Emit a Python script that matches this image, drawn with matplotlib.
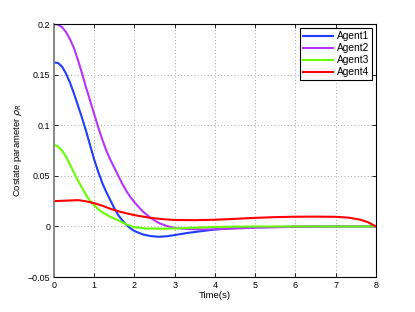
import numpy as np
import matplotlib
matplotlib.use('Agg')
import matplotlib.pyplot as plt

plt.rcParams['font.family'] = ['Liberation Sans', 'DejaVu Sans']

# values
t1 = [0, 0.1, 0.2, 0.3, 0.4, 0.5, 0.6, 0.7, 0.8, 0.9, 1.0, 1.1, 1.2, 1.3, 1.4, 1.5, 1.6, 1.7, 1.8, 1.9, 2.0,
      2.2, 2.4, 2.6, 2.8, 3.0, 3.3, 3.6, 4.0, 4.5, 5.0, 6.0, 7.0, 8.0]
agent1 = [0.162, 0.1615, 0.158, 0.151, 0.142, 0.131, 0.119, 0.107, 0.094, 0.080, 0.066, 0.054, 0.043, 0.034,
          0.026, 0.018, 0.011, 0.006, 0.0015, -0.0018, -0.0045, -0.0078, -0.0095, -0.0102, -0.0097, -0.0085,
          -0.0065, -0.005, -0.003, -0.0015, -0.0008, -0.0002, 0.0, 0.0]

t2 = [0, 0.1, 0.2, 0.3, 0.4, 0.5, 0.6, 0.7, 0.8, 0.9, 1.0, 1.1, 1.2, 1.3, 1.4, 1.5, 1.6, 1.7, 1.8, 1.9, 2.0,
      2.2, 2.4, 2.6, 2.8, 3.0, 3.3, 3.7, 4.2, 5.0, 6.0, 7.0, 8.0]
agent2 = [0.2, 0.1995, 0.197, 0.192, 0.185, 0.176, 0.164, 0.151, 0.137, 0.124, 0.111, 0.098, 0.086, 0.075,
          0.066, 0.058, 0.050, 0.042, 0.035, 0.029, 0.024, 0.015, 0.0085, 0.0035, 0.0005, -0.0015, -0.0025,
          -0.003, -0.0025, -0.0012, -0.0004, 0.0, 0.0]

t3 = [0, 0.1, 0.2, 0.3, 0.4, 0.5, 0.6, 0.7, 0.8, 0.9, 1.0, 1.1, 1.2, 1.4, 1.6, 1.8, 2.0, 2.3, 2.6, 3.0, 3.5,
      4.0, 5.0, 8.0]
agent3 = [0.081, 0.079, 0.075, 0.069, 0.061, 0.053, 0.045, 0.038, 0.031, 0.025, 0.021, 0.017, 0.014, 0.0095,
          0.006, 0.002, -0.0008, -0.002, -0.0022, -0.002, -0.0012, -0.0005, 0.0, 0.0]

t4 = [0, 0.3, 0.6, 0.8, 1.0, 1.2, 1.4, 1.6, 1.8, 2.0, 2.2, 2.4, 2.7, 3.0, 3.5, 4.0, 4.5, 5.0, 5.5, 6.0, 6.5,
      7.0, 7.3, 7.6, 7.8, 8.0]
agent4 = [0.025, 0.0255, 0.026, 0.0248, 0.023, 0.0205, 0.0175, 0.015, 0.013, 0.0112, 0.0098, 0.0085, 0.0072,
          0.0064, 0.0062, 0.0066, 0.0075, 0.0085, 0.0092, 0.0096, 0.0097, 0.0095, 0.0088, 0.0068, 0.0042, 0.0]

labels = ['Agent1', 'Agent2', 'Agent3', 'Agent4']
colors = ['#1f3cff', '#b833ff', '#66ff00', '#ff0000']

fig = plt.figure(figsize=(4.15, 3.12), dpi=100)
ax = fig.add_axes([0.130, 0.112, 0.776, 0.811])

for t, y, lab, c in zip([t1, t2, t3, t4], [agent1, agent2, agent3, agent4], labels, colors):
    ax.plot(t, y, color=c, lw=1.5, label=lab)

ax.set_xlim(0, 8)
ax.set_ylim(-0.05, 0.2)
ax.set_xticks(range(0, 9))
ax.set_yticks([-0.05, 0, 0.05, 0.1, 0.15, 0.2])
ax.set_yticklabels(['\u22120.05', '0', '0.05', '0.1', '0.15', '0.2'])
ax.tick_params(direction='in', length=3, width=0.6, labelsize=6.4, top=True, right=True, pad=2.5)
ax.grid(True, linestyle=(0, (1, 3)), color='#888888', lw=0.6)
for s in ax.spines.values():
    s.set_linewidth(0.8)
ax.spines['left'].set_color('#808080')
ax.spines['left'].set_linewidth(1.3)

ax.set_xlabel('Time(s)', fontsize=6.8, labelpad=1)
ax.set_ylabel(r'Costate parameter $\rho_R$', fontsize=6.8, labelpad=3)

leg = ax.legend(loc='upper right', fontsize=7.3, handlelength=3.0, labelspacing=0.2, borderaxespad=0.4,
                borderpad=0.3, handletextpad=0.3, fancybox=False, framealpha=1)
leg.get_frame().set_edgecolor('black')
leg.get_frame().set_linewidth(0.8)

fig.savefig('out.png', dpi=100)
